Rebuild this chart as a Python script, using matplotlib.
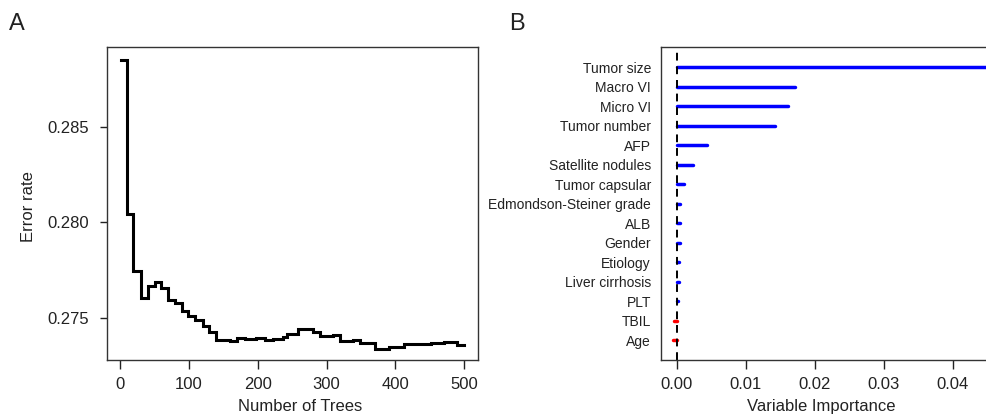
import matplotlib
matplotlib.use("Agg")
import matplotlib.pyplot as plt
import numpy as np

plt.rcParams['font.family'] = ['Liberation Sans', 'DejaVu Sans']

# Panel A: OOB error rate vs number of trees (step change points)
trees = [1, 10, 19, 30, 40, 51, 60, 69, 80, 90, 99, 109, 120, 129, 140, 160, 170,
         182, 197, 211, 222, 237, 242, 259, 281, 291, 310, 320, 339, 349, 371, 390,
         412, 451, 470, 489, 500]
error_rate = [0.28853, 0.28042, 0.27745, 0.27604, 0.27665, 0.27689, 0.27654, 0.27595,
              0.27577, 0.27537, 0.27510, 0.27488, 0.27458, 0.27428, 0.27386, 0.27379,
              0.27396, 0.27388, 0.27392, 0.27386, 0.27390, 0.27400, 0.27414, 0.27441,
              0.27428, 0.27405, 0.27410, 0.27379, 0.27382, 0.27370, 0.27335, 0.27347,
              0.27361, 0.27367, 0.27372, 0.27356, 0.27356]
a_xticks = [0, 100, 200, 300, 400, 500]
a_yticks = [0.275, 0.280, 0.285]

# Panel B: variable importance (top to bottom)
variables = ["Tumor size", "Macro VI", "Micro VI", "Tumor number", "AFP",
             "Satellite nodules", "Tumor capsular", "Edmondson-Steiner grade", "ALB",
             "Gender", "Etiology", "Liver cirrhosis", "PLT", "TBIL", "Age"]
importance = [0.0450, 0.01716, 0.01619, 0.01426, 0.00445, 0.00232, 0.00112, 0.00054,
              0.00050, 0.00045, 0.00040, 0.00030, 0.00025, -0.00035, -0.00055]
b_xticks = [0.00, 0.01, 0.02, 0.03, 0.04]

W, H = 986, 420
fig = plt.figure(figsize=(W / 100, H / 100), dpi=100)

spine_col = '#333333'
txt_col = '#222222'

# ---- Panel A ----
axA = fig.add_axes([107 / W, 1 - 360 / H, (478 - 107) / W, (360 - 47.5) / H])
axA.plot(trees, error_rate, drawstyle='steps-post', color='black', lw=2.2,
         solid_joinstyle='miter')
axA.set_xlim(-19, 520)
axA.set_ylim(0.27279, 0.28916)
axA.set_xticks(a_xticks)
axA.set_yticks(a_yticks)
axA.set_yticklabels([f"{v:.3f}" for v in a_yticks])
axA.tick_params(axis='both', labelsize=12, colors=txt_col, width=1)
axA.tick_params(axis='x', length=6.5, pad=6)
axA.tick_params(axis='y', length=5, pad=8)
for s in axA.spines.values():
    s.set_color(spine_col)
    s.set_linewidth(1)
axA.set_xlabel("Number of Trees", fontsize=12, color=txt_col)
axA.xaxis.set_label_coords(0.52, -0.125)
axA.set_ylabel("Error rate", fontsize=12, color=txt_col)
axA.yaxis.set_label_coords(-0.192, 0.49)

# ---- Panel B ----
axB = fig.add_axes([660.7 / W, 1 - 360 / H, (997.6 - 660.7) / W, (360 - 47.5) / H])
n = len(variables)
ypos = np.arange(n, 0, -1)
for yv, val in zip(ypos, importance):
    col = '#0000FF' if val >= 0 else '#FF0000'
    axB.plot([0, val], [yv, yv], color=col, lw=2.5, solid_capstyle='round')
axB.axvline(0, color='black', lw=1.4, ls=(0, (4, 3)))
axB.set_xlim(-0.00232, 0.0465)
axB.set_ylim(0, 16)
axB.set_yticks(ypos)
axB.set_yticklabels(variables)
axB.set_xticks(b_xticks)
axB.set_xticklabels([f"{v:.2f}" for v in b_xticks])
axB.tick_params(axis='y', length=0, pad=7, labelsize=10, colors=txt_col)
axB.tick_params(axis='x', length=6.5, pad=6, labelsize=12, colors=txt_col, width=1)
for s in axB.spines.values():
    s.set_color(spine_col)
    s.set_linewidth(1)
axB.spines['right'].set_visible(False)
axB.set_xlabel("Variable Importance", fontsize=12, color=txt_col)
axB.xaxis.set_label_coords(0.476, -0.125)

fig.text(17 / W, 1 - 24 / H, "A", fontsize=17, ha='center', va='center', color=txt_col)
fig.text(517 / W, 1 - 24 / H, "B", fontsize=17, ha='center', va='center', color=txt_col)

fig.savefig("out.png", dpi=100)
